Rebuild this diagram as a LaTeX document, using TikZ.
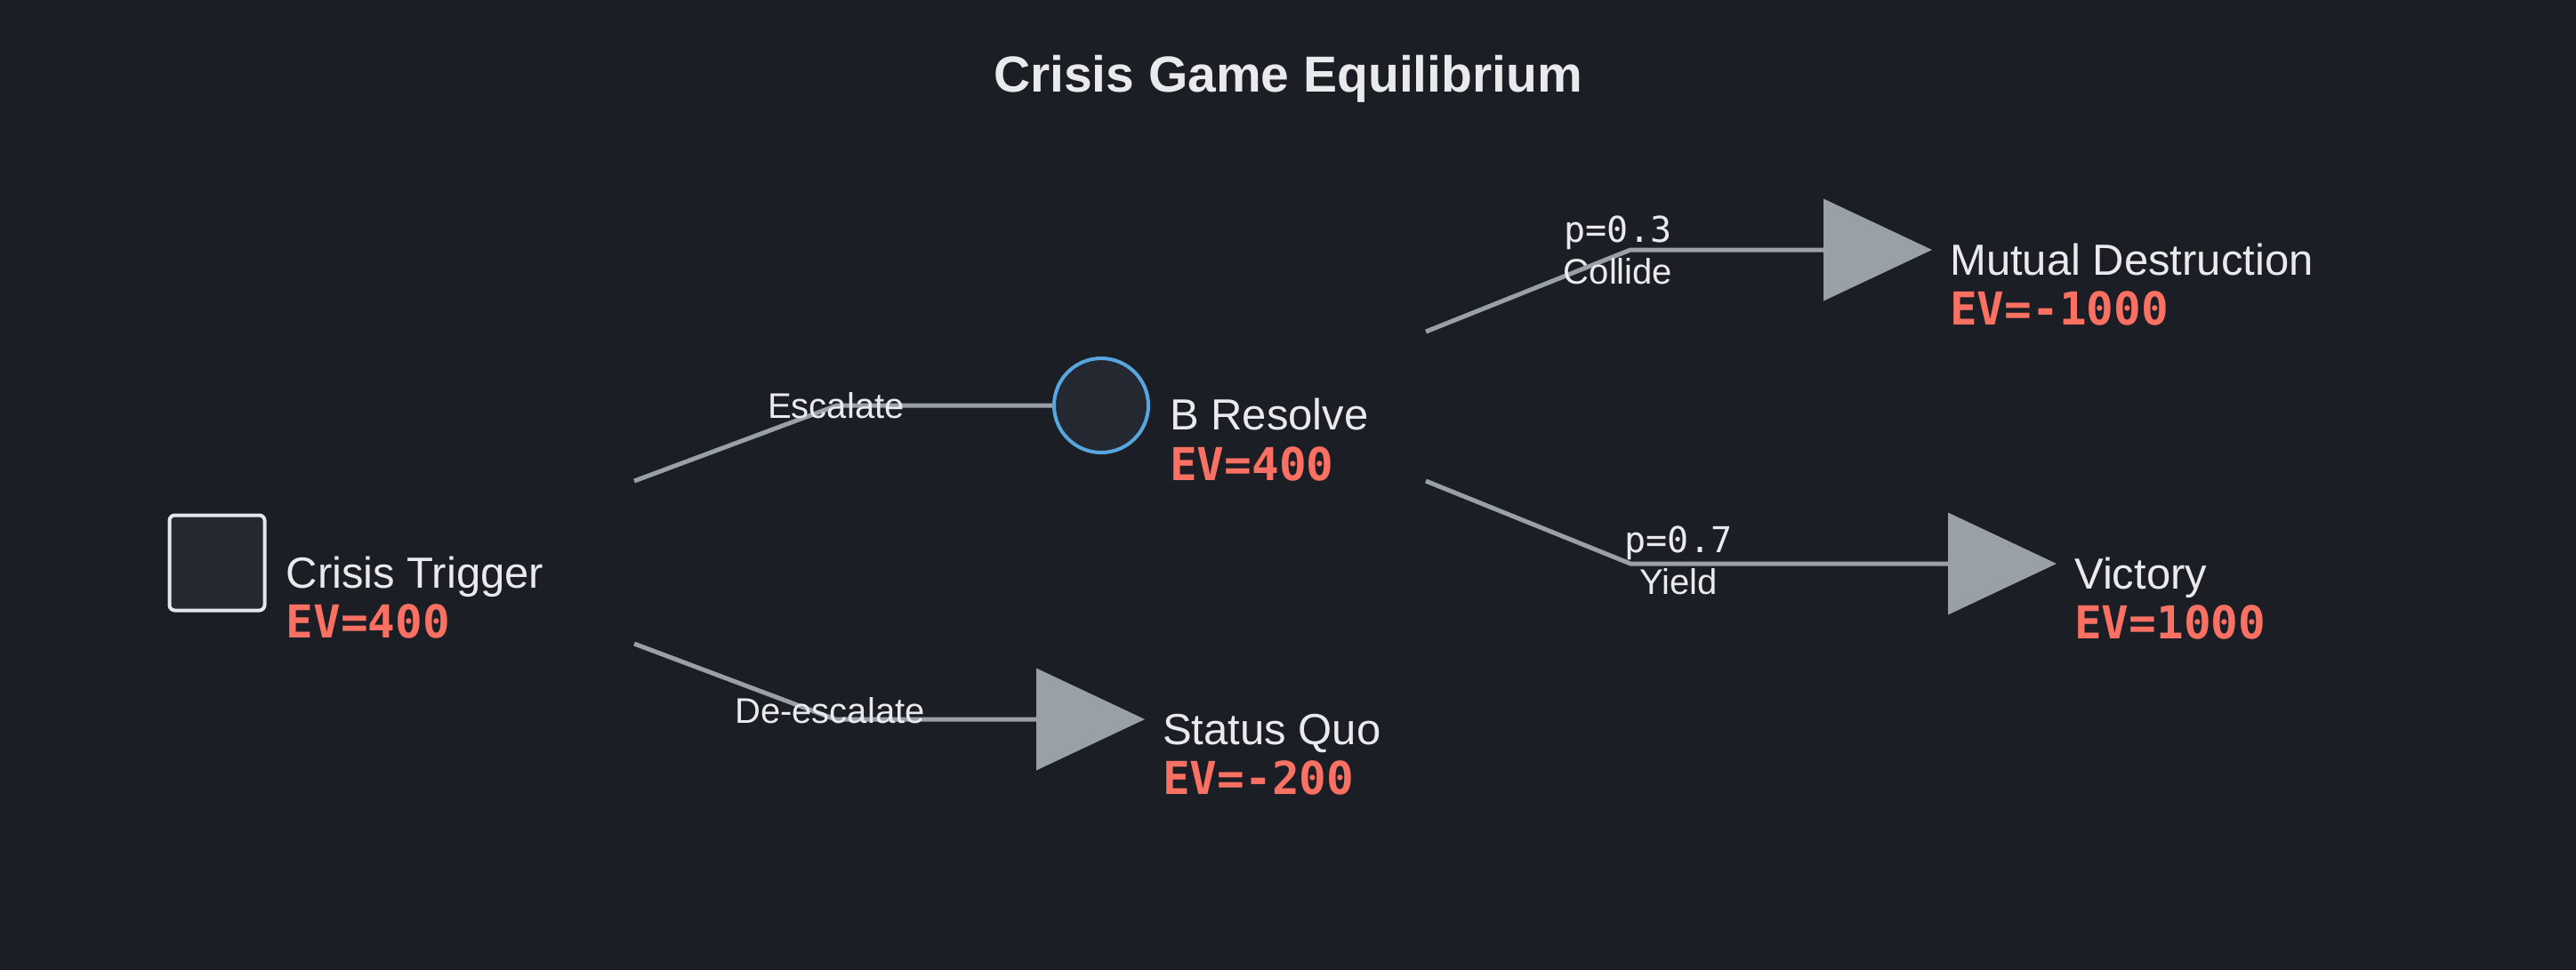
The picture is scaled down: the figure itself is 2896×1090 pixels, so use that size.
\documentclass[tikz,border=0pt]{standalone}
\usepackage{fontspec}
\setmainfont{Liberation Sans}
\setmonofont{DejaVu Sans Mono}
\usetikzlibrary{positioning, shapes.geometric}
\definecolor{color_back}{RGB}{27,30,37}
\definecolor{color_fill}{RGB}{35,40,49}
\definecolor{color_text}{RGB}{232,234,237}
\definecolor{color_ev}{RGB}{250,113,100}
\definecolor{color_edge}{RGB}{154,160,167}
\definecolor{color_blue}{RGB}{88,166,224}
\definecolor{color_box}{RGB}{229,231,235}

\begin{document}
\begin{tikzpicture}[x=1pt,y=-1pt,
decision/.style={rectangle,draw=color_box,line width=4pt,fill=color_fill,rounded corners=6pt,minimum size=107pt,inner sep=0pt},
chance/.style={circle,draw=color_blue,line width=4pt,fill=color_fill,minimum size=106pt,inner sep=0pt},
outcome/.style={isosceles triangle,isosceles triangle stretches,fill=color_edge,minimum width=115pt,minimum height=122pt,inner sep=0pt,outer sep=0pt,anchor=west},
nodetext/.style={text=color_text,font=\fontsize{49}{56}\selectfont,inner sep=0pt,anchor=base west},
evtext/.style={text=color_ev,font=\ttfamily\bfseries\fontsize{51}{56}\selectfont,inner sep=0pt,anchor=base west},
branch/.style={draw=color_edge,line width=5pt},
branchlabel/.style={text=color_text,font=\fontsize{40}{47}\selectfont,inner sep=0pt},
problabel/.style={text=color_text,font=\ttfamily\fontsize{40}{47}\selectfont,inner sep=0pt,anchor=base}]
\useasboundingbox (0,0) rectangle (2896,1090);
\path[fill=color_back] (-10,-10) rectangle (2906,1100);
\node[text=color_text,font=\bfseries\fontsize{57}{68}\selectfont,anchor=base] (title) at (1448,103) {Crisis Game Equilibrium};
% DECISION
\node[decision] (trigger) at (244,633) {};
\node[nodetext] (trigger-name) at ([xshift=22pt,yshift=-28pt]trigger.east) {Crisis Trigger};
\node[evtext] (trigger-ev) at ([yshift=-56pt]trigger-name.base west) {EV=400};
% CHANCE
\node[chance] (resolve) at (1238,456) {};
\node[nodetext] (resolve-name) at ([xshift=22pt,yshift=-27pt]resolve.east) {B Resolve};
\node[evtext] (resolve-ev) at ([yshift=-57pt]resolve-name.base west) {EV=400};
% OUTCOMES
\node[outcome] (quo) at (1165,809) {};
\node[nodetext] (quo-name) at ([xshift=20pt,yshift=-28pt]quo.east) {Status Quo};
\node[evtext] (quo-ev) at ([yshift=-56pt]quo-name.base west) {EV=-200};
\node[outcome] (mutual) at (2050,281) {};
\node[nodetext] (mutual-name) at ([xshift=20pt,yshift=-28pt]mutual.east) {Mutual Destruction};
\node[evtext] (mutual-ev) at ([yshift=-56pt]mutual-name.base west) {EV=-1000};
\node[outcome] (victory) at (2190,634) {};
\node[nodetext] (victory-name) at ([xshift=20pt,yshift=-28pt]victory.east) {Victory};
\node[evtext] (victory-ev) at ([yshift=-56pt]victory-name.base west) {EV=1000};
% BRANCHES
\coordinate (escalate-out) at (713,541);
\coordinate (deescalate-out) at (713,724);
\coordinate (collide-out) at (1603,373);
\coordinate (yield-out) at (1603,541);
\draw[branch] (escalate-out) -- ++(228,-85) -- (resolve.west);
\draw[branch] (deescalate-out) -- ++(226,85) -- (quo.west);
\draw[branch] (collide-out) -- ++(230,-92) -- (mutual.west);
\draw[branch] (yield-out) -- ++(230,93) -- (victory.west);
\node[branchlabel] (escalate-label) at (940,456) {Escalate};
\node[branchlabel] (deescalate-label) at (933,799) {De-escalate};
\node[problabel] (collide-p) at (1819,272) {p=0.3};
\node[branchlabel,anchor=base] (collide-label) at (1819,319) {Collide};
\node[problabel] (yield-p) at (1887,621) {p=0.7};
\node[branchlabel,anchor=base] (yield-label) at (1887,668) {Yield};
\end{tikzpicture}
\end{document}
